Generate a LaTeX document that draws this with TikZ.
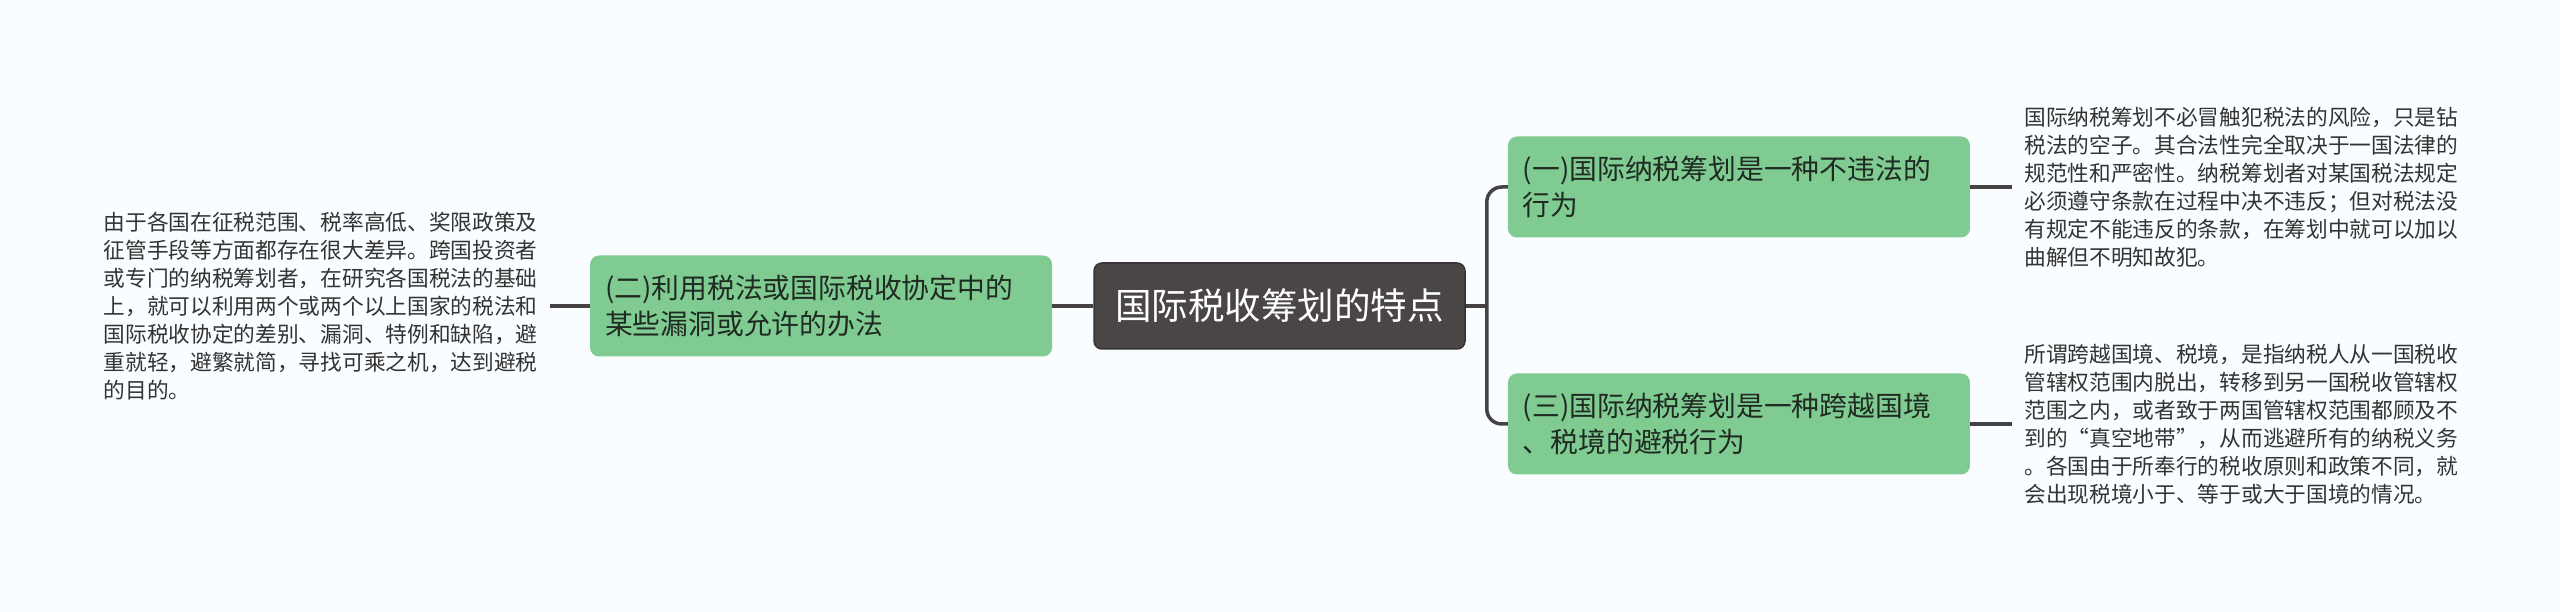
\documentclass[tikz,border=0pt]{standalone}
\usepackage{fontspec}
\setmainfont{Noto Sans CJK SC}
\usetikzlibrary{positioning,calc}
\definecolor{mmbg}{HTML}{F9FDFF}
\definecolor{mmroot}{HTML}{4B4646}
\definecolor{mmrootline}{HTML}{363232}
\definecolor{mmgreen}{HTML}{80CB91}
\definecolor{mmline}{HTML}{444242}
\definecolor{mmtopictext}{HTML}{1F2A22}
\definecolor{mmnotetext}{HTML}{333333}

\begin{document}
\begin{tikzpicture}[
  x=1pt, y=1pt,
  root/.style={draw=mmrootline, line width=1.5pt, fill=mmroot, rounded corners=8pt, text=white, minimum width=371pt, minimum height=86pt, inner sep=0pt, font=\fontsize{36.5}{40}\selectfont},
  topic/.style={fill=mmgreen, rounded corners=9pt, text=mmtopictext, minimum width=462pt, minimum height=101pt, text width=432pt, inner sep=15pt, align=left, font=\fontsize{27.8}{36.5}\selectfont},
  note/.style={inner sep=12pt, align=left, text=mmnotetext, font=\fontsize{21.7}{28}\selectfont},
  edge/.style={draw=mmline, line width=3.5pt}
]
\fill[mmbg] (0,0) rectangle (2560,612);
\useasboundingbox (0,0) rectangle (2560,612);
% Centre and left branch
\node[root] (root) at (1279.5,306) {国际税收筹划的特点};
\node[topic, left=41pt of root] (t2) {(二)利用税法或国际税收协定中的\\某些漏洞或允许的办法};
\node[note, left=40pt of t2] (n2) {由于各国在征税范围、税率高低、奖限政策及\\征管手段等方面都存在很大差异。跨国投资者\\或专门的纳税筹划者，在研究各国税法的基础\\上，就可以利用两个或两个以上国家的税法和\\国际税收协定的差别、漏洞、特例和缺陷，避\\重就轻，避繁就简，寻找可乘之机，达到避税\\的目的。};
% Right branches
\node[topic, right=42pt of root, yshift=119pt] (t1) {(一)国际纳税筹划是一种不违法的\\行为};
\node[topic, right=42pt of root, yshift=-118pt] (t3) {(三)国际纳税筹划是一种跨越国境\\、税境的避税行为};
\node[note, right=42pt of t1] (n1) {国际纳税筹划不必冒触犯税法的风险，只是钻\\税法的空子。其合法性完全取决于一国法律的\\规范性和严密性。纳税筹划者对某国税法规定\\必须遵守条款在过程中决不违反；但对税法没\\有规定不能违反的条款，在筹划中就可以加以\\曲解但不明知故犯。};
\node[note, right=42pt of t3] (n3) {所谓跨越国境、税境，是指纳税人从一国税收\\管辖权范围内脱出，转移到另一国税收管辖权\\范围之内，或者致于两国管辖权范围都顾及不\\到的“真空地带”，从而逃避所有的纳税义务\\。各国由于所奉行的税收原则和政策不同，就\\会出现税境小于、等于或大于国境的情况。};
% Edges
\coordinate (fork) at ($(root.east)+(21pt,0)$);
\draw[edge] (root.west) -- (t2.east);
\draw[edge] (t2.west) -- (n2.east);
\draw[edge] (root.east) -- (fork);
\draw[edge, rounded corners=15pt] (t1.west) -| (fork) |- (t3.west);
\draw[edge] (t1.east) -- (n1.west);
\draw[edge] (t3.east) -- (n3.west);
\end{tikzpicture}
\end{document}
